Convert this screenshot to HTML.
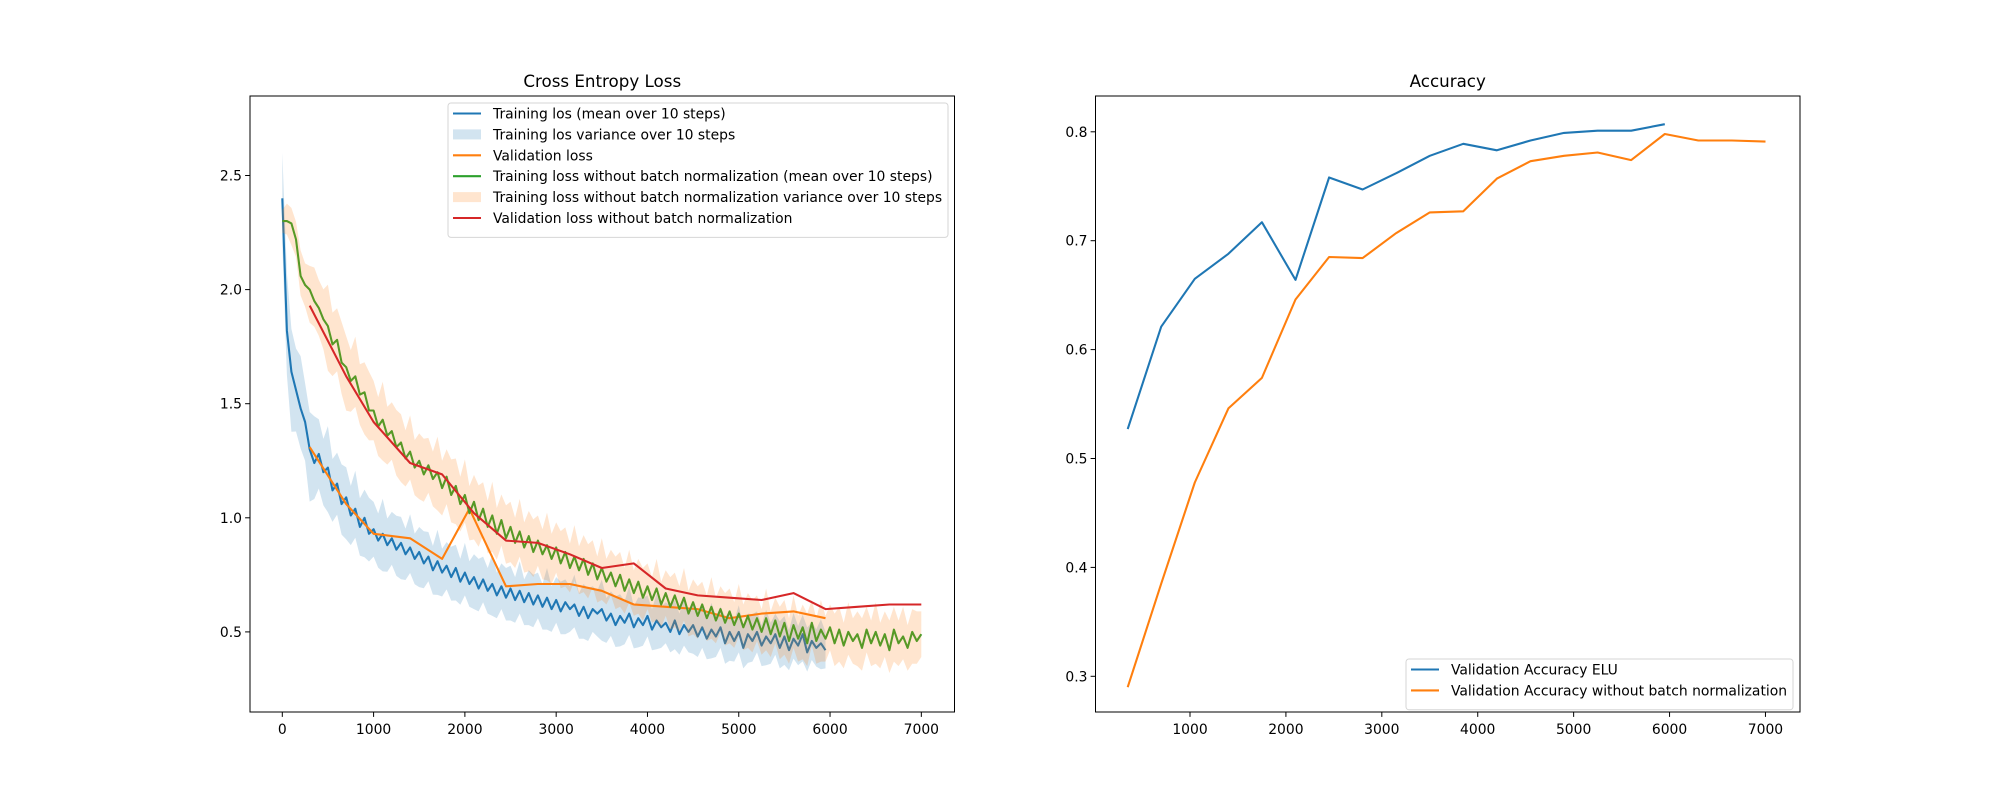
<!DOCTYPE html>
<html><head><meta charset="utf-8"><style>
html,body{margin:0;padding:0;background:#fff;}
svg text{font-family:"DejaVu Sans","Liberation Sans",sans-serif;fill:#000;}
</style></head><body>
<svg id="fig" width="2000" height="800" xmlns="http://www.w3.org/2000/svg"></svg>
<script>
// ---- data: loss chart ----
const blueStep = 50;
const blueLoss = [2.40,1.82,1.64,1.56,1.48,1.42,1.30,1.24,1.28,1.20,
1.22,1.12,1.15,1.06,1.09,1.01,1.04,0.96,1.00,0.93,
0.95,0.90,0.93,0.88,0.91,0.86,0.89,0.84,0.87,0.82,
0.85,0.80,0.83,0.77,0.81,0.76,0.79,0.74,0.78,0.72,
0.76,0.71,0.74,0.69,0.73,0.68,0.71,0.66,0.70,0.65,
0.69,0.64,0.68,0.63,0.67,0.62,0.66,0.61,0.65,0.60,
0.64,0.59,0.63,0.60,0.62,0.57,0.61,0.56,0.60,0.58,
0.60,0.55,0.58,0.53,0.57,0.54,0.58,0.52,0.56,0.53,
0.57,0.51,0.55,0.52,0.54,0.50,0.55,0.49,0.53,0.50,
0.53,0.48,0.52,0.47,0.51,0.48,0.52,0.45,0.50,0.46,
0.50,0.43,0.49,0.46,0.50,0.44,0.48,0.45,0.49,0.43,
0.48,0.42,0.47,0.44,0.49,0.41,0.46,0.43,0.45,0.42];
const blueSpread = [0.20,0.14,0.12,0.11,0.10,0.10,0.10,0.10,0.09,0.09,0.09,0.09,0.08];
const greenStep = 50;
const greenLoss = [2.30,2.30,2.29,2.22,2.06,2.02,2.00,1.95,1.92,1.87,
1.84,1.76,1.78,1.68,1.66,1.60,1.62,1.54,1.55,1.47,
1.47,1.40,1.43,1.36,1.38,1.31,1.33,1.26,1.29,1.22,
1.25,1.19,1.23,1.17,1.20,1.13,1.18,1.10,1.14,1.06,
1.10,1.02,1.07,0.99,1.04,0.96,1.01,0.93,0.99,0.91,
0.96,0.89,0.94,0.87,0.92,0.85,0.90,0.84,0.88,0.82,
0.87,0.80,0.85,0.78,0.83,0.77,0.82,0.75,0.80,0.73,
0.78,0.72,0.76,0.70,0.75,0.68,0.73,0.67,0.72,0.65,
0.70,0.64,0.69,0.62,0.67,0.61,0.66,0.60,0.65,0.58,
0.63,0.57,0.62,0.56,0.61,0.55,0.60,0.54,0.59,0.53,
0.58,0.52,0.57,0.51,0.56,0.50,0.56,0.49,0.55,0.48,
0.54,0.46,0.53,0.47,0.52,0.45,0.54,0.46,0.51,0.47,
0.52,0.45,0.51,0.44,0.50,0.46,0.49,0.43,0.51,0.45,
0.50,0.44,0.49,0.42,0.51,0.45,0.48,0.43,0.50,0.46,
0.49];
const greenSpread = [0.05,0.14,0.13,0.12,0.12,0.11,0.11,0.10,0.10,0.10,0.10,0.10,0.10,0.10,0.10];
const valSteps = [300,700,1000,1400,1750,2050,2450,2800,3150,3500,3850,4200,4550,4900,5250,5600,5950];
const valLoss = [1.31,1.06,0.93,0.91,0.82,1.04,0.70,0.71,0.71,0.68,0.62,0.61,0.60,0.56,0.58,0.59,0.56];
const valNBSteps = [300,700,1000,1400,1750,2100,2450,2800,3150,3500,3850,4200,4550,4900,5250,5600,5950,6300,6650,7000];
const valNBLoss = [1.93,1.62,1.42,1.24,1.19,1.02,0.90,0.89,0.84,0.78,0.80,0.69,0.66,0.65,0.64,0.67,0.60,0.61,0.62,0.62];
const lossXTicks = [0,1000,2000,3000,4000,5000,6000,7000];
const lossYTicks = [0.5,1.0,1.5,2.0,2.5];
// ---- data: accuracy chart ----
const accEluSteps = [350,700,1050,1400,1750,2100,2450,2800,3150,3500,3850,4200,4550,4900,5250,5600,5950];
const accElu = [0.527,0.621,0.665,0.688,0.717,0.664,0.758,0.747,0.762,0.778,0.789,0.783,0.792,0.799,0.801,0.801,0.807];
const accNBSteps = [350,700,1050,1400,1750,2100,2450,2800,3150,3500,3850,4200,4550,4900,5250,5600,5950,6300,6650,7000];
const accNB = [0.290,0.385,0.478,0.546,0.574,0.646,0.685,0.684,0.707,0.726,0.727,0.757,0.773,0.778,0.781,0.774,0.798,0.792,0.792,0.791];
const accXTicks = [1000,2000,3000,4000,5000,6000,7000];
const accYTicks = [0.3,0.4,0.5,0.6,0.7,0.8];

const NS="http://www.w3.org/2000/svg";
const svg=document.getElementById('fig');
function mk(tag,attrs,parent){const e=document.createElementNS(NS,tag);for(const k in attrs)e.setAttribute(k,attrs[k]);(parent||svg).appendChild(e);return e;}

const L={x0:250,x1:954.5,y0:96,y1:712};
const R={x0:1095.5,x1:1800,y0:96,y1:712};
const lx=v=>282.3+(v)*0.09129;
const ly=v=>175.5+(2.5-v)*228.2;
const rx=v=>1190+(v-1000)*0.09591;
const ry=v=>131.8+(0.8-v)*1089;

function pathFrom(xs,ys,fx,fy){return xs.map((x,i)=>(i?'L':'M')+fx(x).toFixed(1)+','+fy(ys[i]).toFixed(1)).join(' ');}
function seq(n,step){const a=[];for(let i=0;i<n;i++)a.push(i*step);return a;}
function spreadAt(arr,i,n){const t=i/(n-1)*(arr.length-1);const k=Math.min(Math.floor(t),arr.length-2);const f=t-k;return arr[k]*(1-f)+arr[k+1]*f;}
function band(xs,ys,sp,fx,fy){const n=ys.length;let up=[],dn=[];for(let i=0;i<n;i++){const s=spreadAt(sp,i,n);up.push(fx(xs[i]).toFixed(1)+','+fy(ys[i]+s*(i%3===1?1.3:1)).toFixed(1));dn.push(fx(xs[i]).toFixed(1)+','+fy(ys[i]-s*(i%4===2?1.4:1)).toFixed(1));}return 'M'+up.join(' L')+' L'+dn.reverse().join(' L')+' Z';}

function axes(A,name,title){
  const g=mk('g',{});
  
  
  const t=mk('text',{x:(A.x0+A.x1)/2,y:A.y0-9,'font-size':'16.7','text-anchor':'middle'},g);
  t.textContent=title;
  
  
  return g;
}
function frame(A,g){const r=mk('rect',{x:A.x0,y:A.y0,width:A.x1-A.x0,height:A.y1-A.y0,fill:'none',stroke:'#000','stroke-width':'1'},g);
  
  }
function ticks(A,g,xt,yt,fx,fy,yfmt){
  xt.forEach(v=>{const x=fx(v);mk('line',{x1:x,x2:x,y1:A.y1,y2:A.y1+4.9,stroke:'#000'},g);
    const t=mk('text',{x:x,y:A.y1+22,'font-size':'13.9','text-anchor':'middle'},g);t.textContent=v;
    
    });
  yt.forEach(v=>{const y=fy(v);mk('line',{x1:A.x0-4.9,x2:A.x0,y1:y,y2:y,stroke:'#000'},g);
    const t=mk('text',{x:A.x0-8,y:y+5,'font-size':'13.9','text-anchor':'end'},g);t.textContent=yfmt(v);
    
    });
}
function line(g,d,c,name,w){const p=mk('path',{d:d,fill:'none',stroke:c,'stroke-width':w||2.08,'stroke-linejoin':'round'},g);
  
  return p;}
function fill(g,d,c,name){const p=mk('path',{d:d,fill:c,'fill-opacity':0.2,stroke:'none'},g);
  
  }
function legend(g,x,y,w,entries,name){
  const lg=mk('g',{},g);
  
  
  mk('rect',{x:x,y:y,width:w,height:entries.length*20.9+9,rx:3,fill:'#fff','fill-opacity':0.8,stroke:'#d6d6d6'},lg);
  entries.forEach((e,i)=>{const cy=y+10.5+i*20.9;
    if(e[2]==='fill')mk('rect',{x:x+5,y:cy-5,width:28,height:10,fill:e[1],'fill-opacity':0.2},lg);
    else mk('line',{x1:x+5,x2:x+33,y1:cy,y2:cy,stroke:e[1],'stroke-width':2.08},lg);
    const t=mk('text',{x:x+45,y:cy+5,'font-size':'13.9'},lg);t.textContent=e[0];
    
    });
}

const gL=axes(L,'loss-chart','Cross Entropy Loss');
const bx=seq(blueLoss.length,blueStep), gx=seq(greenLoss.length,greenStep);
fill(gL,band(bx,blueLoss,blueSpread,lx,ly),'#1f77b4','training-loss-band');
line(gL,pathFrom(bx,blueLoss,lx,ly),'#1f77b4','training-loss-line');
line(gL,pathFrom(valSteps,valLoss,lx,ly),'#ff7f0e','validation-loss-line');
line(gL,pathFrom(gx,greenLoss,lx,ly),'#2ca02c','training-loss-nobn-line');
fill(gL,band(gx,greenLoss,greenSpread,lx,ly),'#ff7f0e','training-loss-nobn-band');
line(gL,pathFrom(valNBSteps,valNBLoss,lx,ly),'#d62728','validation-loss-nobn-line');
frame(L,gL);
ticks(L,gL,lossXTicks,lossYTicks,lx,ly,v=>v.toFixed(1));
legend(gL,448,103,500,[
 ['Training los (mean over 10 steps)','#1f77b4'],
 ['Training los variance over 10 steps','#1f77b4','fill'],
 ['Validation loss','#ff7f0e'],
 ['Training loss without batch normalization (mean over 10 steps)','#2ca02c'],
 ['Training loss without batch normalization variance over 10 steps','#ff7f0e','fill'],
 ['Validation loss without batch normalization','#d62728']],'loss-legend');

const gR=axes(R,'accuracy-chart','Accuracy');
line(gR,pathFrom(accEluSteps,accElu,rx,ry),'#1f77b4','accuracy-elu-line');
line(gR,pathFrom(accNBSteps,accNB,rx,ry),'#ff7f0e','accuracy-nobn-line');
frame(R,gR);
ticks(R,gR,accXTicks,accYTicks,rx,ry,v=>v.toFixed(1));
legend(gR,1406,659,387,[
 ['Validation Accuracy ELU','#1f77b4'],
 ['Validation Accuracy without batch normalization','#ff7f0e']],'accuracy-legend');
</script>
</body></html>
